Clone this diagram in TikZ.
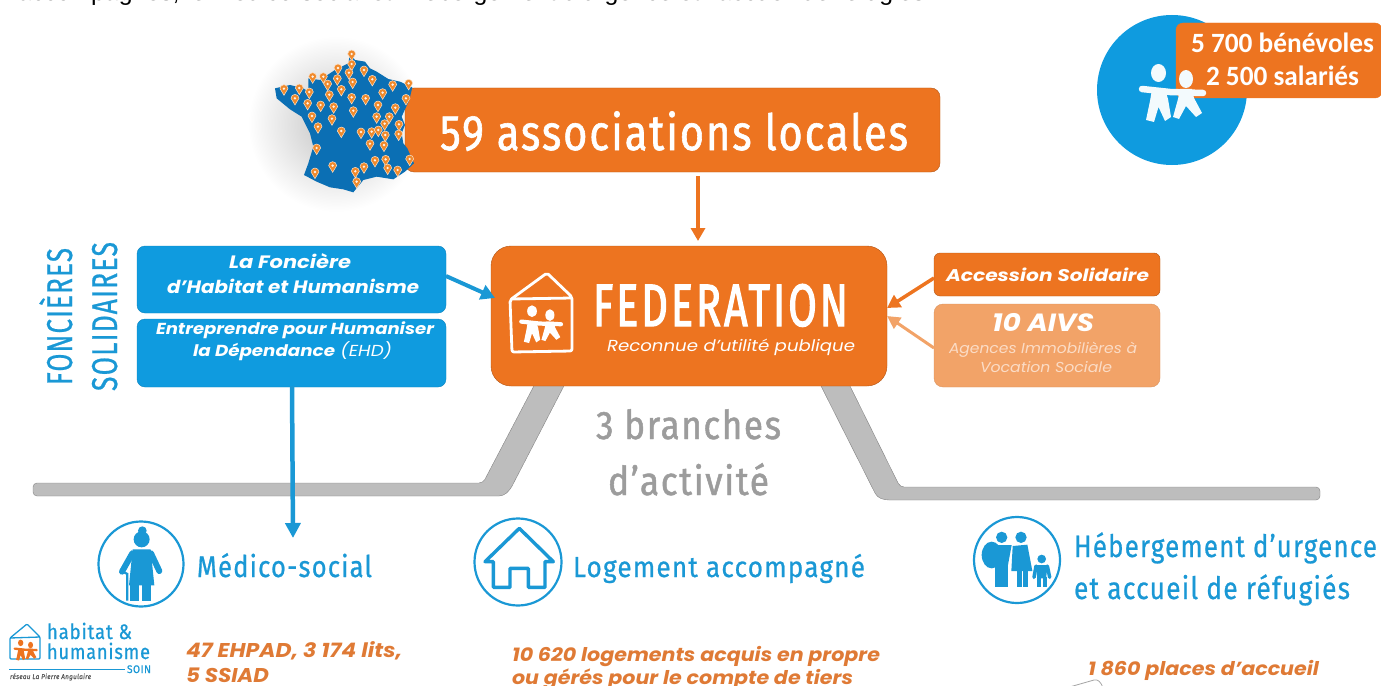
\documentclass[tikz,border=0pt]{standalone}
\usepackage{graphicx}
\usepackage{fontspec}
\usetikzlibrary{arrows.meta,shapes.geometric}
\setmainfont{Liberation Sans}
\newfontfamily\disp[FakeBold=0.7,FakeStretch=0.86,LetterSpace=4]{Fira Sans}
\newfontfamily\dispb[FakeBold=1.2,FakeStretch=0.86,LetterSpace=4]{Fira Sans}
\newfontfamily\dispw[FakeBold=2.2,FakeStretch=0.8,LetterSpace=6]{Fira Sans}
\newfontfamily\mont{Poppins}
\newfontfamily\calib{Carlito}
\definecolor{hhorange}{HTML}{ED7420}
\definecolor{hhlight}{HTML}{F2A368}
\definecolor{hhblue}{HTML}{0F9BDF}
\definecolor{hhtext}{HTML}{1A98D5}
\definecolor{hhmap}{HTML}{0B6FB4}
\definecolor{hhgrey}{HTML}{BDBDBD}
\definecolor{hhgreytext}{HTML}{9C9C9C}
\definecolor{hhsub}{HTML}{DF7A35}
\definecolor{hhpin}{HTML}{F08A2C}
\definecolor{hhpale}{HTML}{FBDCC6}
\newsavebox\fitbox
\newcommand\fitw[2]{\sbox\fitbox{#2}\pgfmathsetmacro\fitr{#1*1.00375/\the\wd\fitbox}\scalebox{\fitr}[1]{\usebox\fitbox}}
\newcommand\fs[1]{\fontsize{#1}{#1}\selectfont}
% two children holding hands, bbox 65x57 from (#1,#2), scale #3, colour #4
\newcommand\kidsicon[4]{%
\begin{scope}[shift={(#1,#2)},x=#3bp,y=-#3bp,line cap=round,#4]
\fill[#4] (18.5,8) ellipse (7.5 and 9);
\fill[#4] (46,14) ellipse (7 and 9);
\fill[#4] (12,24)--(25,24)--(28,34)--(31,52)--(25,56)--(18.5,42)--(14,57)--(6,55)--(10,36)--cycle;
\fill[#4] (40,24)--(52,24)--(54,33)--(62,48)--(56,52)--(46,41)--(39,54)--(33,52)--(38,34)--cycle;
\draw[#4,line width=#3*6.5bp] (2,24)--(30,27)--(63,28);
\end{scope}}
\tikzset{
  lbl/.style={inner sep=0pt,outer sep=0pt,anchor=base west},
  boxed/.style={inner sep=0pt,outer sep=0pt,rounded corners=#1,draw=black!25!hhorange,line width=.4bp},
  ring/.style={draw=hhtext,line width=2.2bp,fill=white,circle,inner sep=0pt},
  band/.style={fill=hhgrey,draw=black!30!hhgrey,line width=.4bp,rounded corners=4bp},
}
\begin{document}
\begin{tikzpicture}[x=1bp,y=-1bp]
\useasboundingbox (0,0) rectangle (1381,686);
% clipped line of text at the top
\node[lbl] (toptext) at (18,0.5) {\fitw{914}{\fs{24}accompagnés, le médico-social et l’hébergement d’urgence et l’accueil de réfugiés.}};
% map shadow
\shade[inner color=black!24,outer color=white] (336,124) circle (88);
% grey branches
\fill[band] (33,483) -- (483,483) -- (537,380) -- (567,380) -- (510,490) -- (503,496) -- (33,496) -- cycle;
\fill[band] (818,380) -- (847,380) -- (900,487) -- (1320,487) -- (1320,500) -- (885,500) -- (877,497) -- cycle;
% boxes
\node[boxed=9bp,fill=hhorange,minimum width=535bp,minimum height=84bp] (assoc) at (672.5,130) {};
\node[boxed=20bp,fill=hhorange,minimum width=396bp,minimum height=140bp] (fed) at (689,316) {};
\node[boxed=8bp,fill=hhblue,draw=black!15!hhblue,minimum width=309bp,minimum height=67bp] (fonciere) at (291.5,279.5) {};
\node[boxed=8bp,fill=hhblue,draw=black!15!hhblue,minimum width=309bp,minimum height=68bp] (ehd) at (291.5,353) {};
\node[boxed=6bp,fill=hhorange,minimum width=226bp,minimum height=43bp] (access) at (1047,274.5) {};
\node[boxed=9bp,fill=hhlight,draw=black!10!hhlight,minimum width=226bp,minimum height=83bp] (aivs) at (1047,345.5) {};
% France
\begin{scope}[x=.33333bp,y=-.33333bp]
\fill[hhmap] (1050,160)--(1065,180)--(1095,185)--(1110,205)--(1130,215)--(1165,237)--(1200,245)--(1237,262)--(1228,300)--(1205,350)--(1215,375)--(1205,400)--(1210,430)--(1222,445)--(1242,490)--(1215,515)--(1180,538)--(1130,530)--(1090,540)--(1078,555)--(1060,577)--(1030,568)--(990,562)--(950,545)--(912,525)--(925,490)--(940,440)--(930,400)--(905,350)--(870,328)--(830,295)--(825,265)--(870,255)--(910,265)--(925,275)--(925,235)--(960,240)--(1005,210)--(1045,190)--cycle;
\foreach \px/\py in {1055/162,1055/192,1047/218,1014/204,1092/210,938/230,970/230,983/252,1012/236,1058/246,1117/238,1178/254,1226/250,852/266,898/264,928/276,885/295,1024/268,988/284,1148/278,1055/292,1097/295,1218/295,923/310,962/315,1001/320,1134/315,1186/323,1060/332,936/348,996/356,1130/350,1168/350,1154/371,1197/373,954/380,1024/393,1083/396,1115/395,1135/390,1156/405,1196/402,1110/431,1152/435,950/444,1125/481,1157/478,1229/477,1092/500,1163/504,1193/510,998/497,945/516,1066/514,1070/545}{
  \fill[hhpin,draw=white!75!hhpin,line width=.5bp] (\px-12,\py) arc[start angle=180,end angle=0,x radius=12,y radius=-12] -- (\px,\py+20) -- cycle;
  \fill[white!90!hhpin] (\px,\py) circle (4);
}
\end{scope}
% top right
\fill[hhblue] (1172,90) circle (75);
\node[boxed=7bp,fill=hhorange,draw=hhorange,minimum width=206bp,minimum height=75bp] (staff) at (1279,60.5) {};
\kidsicon{1140}{65}{1}{white!95!hhblue}
% connectors
\coordinate (assocout) at (698,176);
\coordinate (fedin) at (698,241);
\draw[hhorange,line width=3.5bp,-{Triangle[length=13bp,width=14bp]}] (assocout) -- (fedin);
\coordinate (foncout) at (446,276);
\coordinate (fedleft) at (495,298);
\draw[hhtext,line width=4bp,-{Triangle[length=14bp,width=15bp]}] (foncout) -- (fedleft);
\coordinate (ehdout) at (292,386);
\coordinate (medin) at (293,538);
\draw[hhtext,line width=4.5bp,-{Triangle[length=15bp,width=15bp]}] (ehdout) -- (medin);
\coordinate (accout) at (934,278);
\coordinate (fedr1) at (887,308);
\draw[hhorange,line width=3.5bp,-{Triangle[length=13bp,width=14bp]}] (accout) -- (fedr1);
\coordinate (aivsout) at (934,348);
\coordinate (fedr2) at (887,316);
\draw[hhlight,line width=3bp,-{Triangle[length=13bp,width=13bp]}] (aivsout) -- (fedr2);
% house in federation box
\draw[white,line width=2.8bp,line join=round,rounded corners=2bp] (510,300)--(547,273)--(572,297)--(572,351)--(512,352)--cycle (511,299)--(572,298);
\kidsicon{520}{306}{.65}{white}
% texts
\node[lbl,text=white] (t59) at (440,150) {\fitw{468}{\dispb\fs{50}59 associations locales}};
\node[lbl,text=white] (tfed) at (593,326) {\fitw{255}{\dispw\fs{60}FEDERATION}};
\node[lbl,text=white] (trup) at (607,351) {\fitw{248}{\mont\itshape\fs{16}Reconnue d’utilité publique}};
\node[lbl,text=hhtext,rotate=90] (tf1) at (72,385) {\fitw{137}{\disp\fs{36}FONCIÈRES}};
\node[lbl,text=hhtext,rotate=90] (tf2) at (117,391) {\fitw{149}{\disp\fs{36}SOLIDAIRES}};
\node[lbl,text=white] (ta1) at (229,268) {\fitw{122}{\mont\bfseries\itshape\fs{18}La Foncière}};
\node[lbl,text=white] (ta2) at (167,293) {\fitw{252}{\mont\bfseries\itshape\fs{18}d’Habitat et Humanisme}};
\node[lbl,text=white] (te1) at (156,334) {\fitw{278}{\mont\bfseries\itshape\fs{16}Entreprendre pour Humaniser}};
\node[lbl,text=white] (te2) at (193,356) {\fitw{199}{\mont\itshape\fs{16}{\bfseries la Dépendance} (EHD)}};
\node[lbl,text=white] (tac) at (946,281) {\fitw{203}{\mont\bfseries\itshape\fs{17}Accession Solidaire}};
\node[lbl,text=white] (tai) at (992,331) {\fitw{102}{\mont\bfseries\itshape\fs{25}10 AIVS}};
\node[lbl,text=hhpale] (tag) at (949,353) {\fitw{188}{\mont\itshape\fs{14.5}Agences Immobilières à}};
\node[lbl,text=hhpale] (tvo) at (980,372) {\fitw{132}{\mont\itshape\fs{14.5}Vocation Sociale}};
\node[lbl,text=hhgreytext] (tb1) at (596,439) {\fitw{185}{\dispb\fs{40}3 branches}};
\node[lbl,text=hhgreytext] (tb2) at (608,495) {\fitw{161}{\dispb\fs{40}d’activité}};
\node[lbl,text=white] (tb) at (1191,53) {\fitw{183}{\calib\bfseries\fs{28}5 700 bénévoles}};
\node[lbl,text=white] (ts) at (1206,86) {\fitw{153}{\calib\bfseries\fs{28}2 500 salariés}};
% branch rings
\node[ring,minimum size=85bp] (rmed) at (141,564) {};
\node[ring,minimum size=87bp] (rlog) at (518,562) {};
\node[ring,minimum size=86bp] (rheb) at (1017,560) {};
\begin{scope}[x=.33333bp,y=-.33333bp,yshift=-500bp]
% elderly woman
\fill[hhtext] (427,92) circle (13) (425,118) circle (24);
\fill[hhtext] (398,148)--(452,148)--(463,256)--(387,256)--cycle;
\draw[hhtext,line width=6bp,line cap=round] (397,160)--(366,215) (453,160)--(478,213);
\draw[hhtext,line width=9bp] (405,250)--(405,302) (440,250)--(440,302);
\draw[hhtext,line width=2.2bp] (382,302)--(382,222)--(368,215);
% family
\begin{scope}[xshift=950bp]
\fill[hhtext] (125,165) ellipse (30 and 40);
\fill[hhtext] (155,112) circle (17) (213,112) circle (17) (275,177) circle (13);
\fill[hhtext] (128,135)--(185,135)--(172,205)--(138,205)--cycle;
\draw[hhtext,line width=6.5bp] (146,195)--(146,262) (164,195)--(164,262);
\fill[hhtext] (188,138)--(232,134)--(247,213)--(184,213)--cycle;
\draw[hhtext,line width=5bp] (207,205)--(207,262) (226,205)--(226,262);
\fill[hhtext] (257,195)--(293,195)--(288,235)--(262,235)--cycle;
\draw[hhtext,line width=4bp] (267,230)--(267,262) (284,230)--(284,262);
\draw[hhtext,line width=3.5bp,line cap=round] (258,198)--(252,232) (292,198)--(299,232);
\end{scope}
\end{scope}
\begin{scope}[x=.33333bp,y=-.33333bp,xshift=460bp,yshift=-510bp]
\draw[hhtext,line width=3.4bp,line join=round] (178,55)--(75,155)--(100,155)--(100,232)--(150,232)--(150,175)--(205,175)--(205,232)--(255,232)--(255,155)--(280,155)--cycle;
\end{scope}
\node[lbl,text=hhtext] (tm) at (197,577) {\fitw{175}{\disp\fs{30}Médico-social}};
\node[lbl,text=hhtext] (tl) at (573,577) {\fitw{292}{\disp\fs{29}Logement accompagné}};
\node[lbl,text=hhtext] (th1) at (1074,557) {\fitw{303}{\disp\fs{31}Hébergement d’urgence}};
\node[lbl,text=hhtext] (th2) at (1074,599) {\fitw{276}{\disp\fs{31}et accueil de réfugiés}};
% logo
\draw[hhtext,line width=1.3bp,line join=round,rounded corners=1bp] (10,638)--(27,624)--(40,637)--(40,659)--(10,659)--cycle (10,638)--(40,637);
\kidsicon{14}{640}{.36}{hhorange}
\node[lbl,text=hhtext] (lg1) at (47,639) {\fitw{85}{\disp\fs{21}habitat \&}};
\node[lbl,text=hhtext] (lg2) at (47,659) {\fitw{103}{\disp\fs{21}humanisme}};
\coordinate (lgl) at (9,669);
\coordinate (lgr) at (125,669);
\draw[hhtext,line width=.7bp] (lgl) -- (lgr);
\node[lbl,text=hhtext] (lg3) at (127,673) {\fitw{24}{\disp\fs{11}SOIN}};
\node[lbl,text=black!65] (lg4) at (10,679) {\fitw{81}{\disp\itshape\fs{7}réseau La Pierre Angulaire}};
% sub-texts
\node[lbl,text=hhsub] (s1) at (186,657) {\fitw{216}{\mont\bfseries\itshape\fs{20}47 EHPAD, 3 174 lits,}};
\node[lbl,text=hhsub] (s2) at (186,682) {\fitw{83}{\mont\bfseries\itshape\fs{20}5 SSIAD}};
\node[lbl,text=hhsub] (s3) at (512,661) {\fitw{368}{\mont\bfseries\itshape\fs{19}10 620 logements acquis en propre}};
\node[lbl,text=hhsub] (s4) at (512,684) {\fitw{341}{\mont\bfseries\itshape\fs{19}ou gérés pour le compte de tiers}};
\node[lbl,text=hhsub] (s5) at (1088,675) {\fitw{231}{\mont\bfseries\itshape\fs{19}1 860 places d’accueil}};
\draw[black!35,line width=.8bp,fill=white] (1066,688)--(1094,680) .. controls (1098,679) and (1101,682) .. (1103,688);
\end{tikzpicture}
\end{document}
